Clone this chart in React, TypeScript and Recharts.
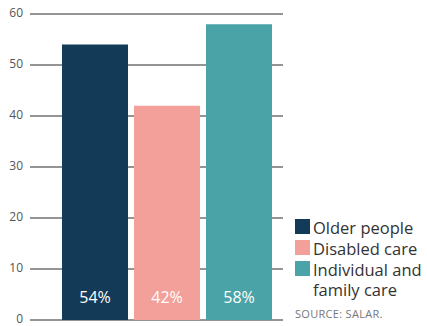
import { Bar, BarChart, CartesianGrid, LabelList, XAxis, YAxis } from "recharts";

const categories = ["Care spending"];
const olderPeople = [54];
const disabledCare = [42];
const individualFamily = [58];
const yTicks = [0, 10, 20, 30, 40, 50, 60];

const SERIES = [
    { key: "older", name: "Older people", color: "#133a56", values: olderPeople },
    { key: "disabled", name: "Disabled care", color: "#f4a09a", values: disabledCare },
    { key: "individual", name: "Individual and family care", color: "#4aa3a7", values: individualFamily },
];

const data = categories.map((name, i) => {
    const row: Record<string, string | number> = { name };
    SERIES.forEach((s) => {
        row[s.key] = s.values[i];
    });
    return row;
});

const FONT = "'Open Sans', 'Noto Sans', sans-serif";

// legend plus the source note, drawn at the lower right
const SideLegend = () => (
    <div style={{ position: "absolute", left: 295, top: 218, width: 132, fontFamily: FONT, color: "#333" }}>
        {SERIES.map((s) => (
            <div key={s.key} style={{ display: "flex", alignItems: "flex-start", marginBottom: 1 }}>
                <div style={{ width: 15, height: 15, background: s.color, marginTop: 1, flexShrink: 0 }} />
                <span style={{ fontSize: 16.5, lineHeight: "20px", marginLeft: 3, width: 118 }}>{s.name}</span>
            </div>
        ))}
        <div style={{ fontSize: 11, color: "#777", marginTop: 6, letterSpacing: 0.3 }}>SOURCE: SALAR.</div>
    </div>
);

const App = () => {
    return (
        <div style={{ position: "absolute", left: 0, top: 0, width: 427, height: 326, background: "#fff" }}>
            <BarChart
                width={427}
                height={326}
                data={data}
                margin={{ top: 14, right: 144, bottom: 6, left: 0 }}
                barSize={66}
                barGap={6}
                style={{ overflow: "visible" }}
            >
                <CartesianGrid vertical={false} stroke="#2b2b2b" strokeWidth={1} />
                <XAxis dataKey="name" hide padding={{ left: 21, right: 0 }} />
                <YAxis
                    width={30}
                    domain={[0, 60]}
                    ticks={yTicks}
                    interval={0}
                    axisLine={false}
                    tickLine={false}
                    tickMargin={1}
                    tick={{ fill: "#555", fontSize: 12, fontFamily: FONT, dy: -1 }}
                />
                {SERIES.map((s) => (
                    <Bar key={s.key} dataKey={s.key} name={s.name} fill={s.color} isAnimationActive={false}>
                        <LabelList
                            dataKey={s.key}
                            position="insideBottom"
                            offset={17}
                            formatter={(v: number) => `${v}%`}
                            fill="#fff"
                            fontSize={16}
                            fontFamily={FONT}
                        />
                    </Bar>
                ))}
            </BarChart>
            <SideLegend />
        </div>
    );
};

export default App;
